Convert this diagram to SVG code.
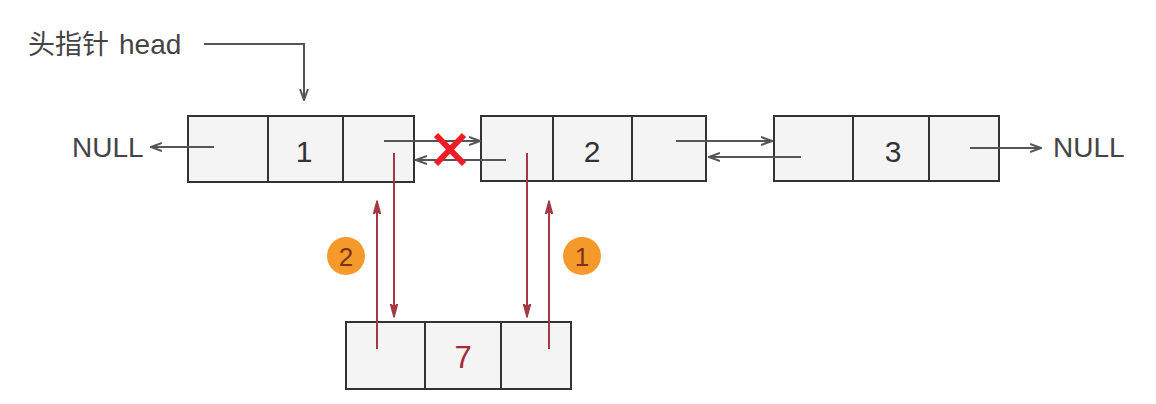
<svg xmlns="http://www.w3.org/2000/svg" width="1156" height="404" viewBox="0 0 1156 404">
  <style>
    .cell { fill: #f4f4f4; stroke: #333; stroke-width: 2; }
    .div { stroke: #333; stroke-width: 2; }
    .lbl { font-family: "Liberation Sans", "Noto Sans CJK SC", sans-serif; fill: #444; }
    .num { font-family: "Liberation Sans", sans-serif; font-size: 30px; fill: #333; text-anchor: middle; }
    .ptr { fill: none; stroke: #555; stroke-width: 2; }
    .red { fill: none; stroke: #a53845; stroke-width: 2; }
    .badge { fill: #f59a2a; }
    .badgeTxt { font-family: "Liberation Sans", sans-serif; font-size: 26px; fill: #7a3418; text-anchor: middle; }
  </style>
  <defs>
    <marker id="gray" viewBox="0 0 12 10" refX="11" refY="5" markerWidth="12" markerHeight="10" markerUnits="userSpaceOnUse" orient="auto">
      <path d="M0,1 L11,5 L0,9" fill="none" stroke="#555" stroke-width="2"/>
    </marker>
    <marker id="redHead" viewBox="0 0 14 10" refX="13" refY="5" markerWidth="14" markerHeight="10" markerUnits="userSpaceOnUse" orient="auto">
      <path d="M0,1.5 L13,5 L0,8.5 L3,5 Z" fill="#a53845" stroke="#a53845" stroke-width="1.5" stroke-linejoin="round"/>
    </marker>
  </defs>

  <!-- head label -->
  <text class="lbl" x="28" y="54" font-size="27">头指针<tspan x="119" font-size="28">head</tspan></text>

  <!-- NULL labels -->
  <text class="lbl" x="72" y="157" font-size="28">NULL</text>
  <text class="lbl" x="1053" y="157" font-size="28">NULL</text>

  <!-- node 1 -->
  <g id="node1">
    <rect class="cell" x="188" y="116" width="226" height="66"/>
    <line class="div" x1="268" y1="116" x2="268" y2="182"/>
    <line class="div" x1="343" y1="116" x2="343" y2="182"/>
    <text class="num" x="304" y="162">1</text>
  </g>

  <!-- node 2 -->
  <g id="node2">
    <rect class="cell" x="481" y="116" width="225" height="65"/>
    <line class="div" x1="553" y1="116" x2="553" y2="181"/>
    <line class="div" x1="632" y1="116" x2="632" y2="181"/>
    <text class="num" x="592" y="162">2</text>
  </g>

  <!-- node 3 -->
  <g id="node3">
    <rect class="cell" x="774" y="116" width="225" height="65"/>
    <line class="div" x1="853" y1="116" x2="853" y2="181"/>
    <line class="div" x1="929" y1="116" x2="929" y2="181"/>
    <text class="num" x="893" y="162">3</text>
  </g>

  <!-- node 7 (new node) -->
  <g id="node7">
    <rect class="cell" x="346" y="322" width="225" height="67"/>
    <line class="div" x1="425" y1="322" x2="425" y2="389"/>
    <line class="div" x1="501" y1="322" x2="501" y2="389"/>
    <text class="num" x="463" y="368" style="fill:#a52a3a; font-size:31px">7</text>
  </g>

  <!-- connectors -->
  <g id="connectors">
    <polyline class="ptr" points="204,44 304,44 304,100" marker-end="url(#gray)"/>
    <line class="ptr" x1="214" y1="147" x2="151" y2="147" marker-end="url(#gray)"/>
    <line class="ptr" x1="384" y1="141" x2="480" y2="141" marker-end="url(#gray)"/>
    <line class="ptr" x1="506" y1="160" x2="416" y2="160" marker-end="url(#gray)"/>
    <line class="ptr" x1="676" y1="141" x2="772" y2="141" marker-end="url(#gray)"/>
    <line class="ptr" x1="801" y1="157" x2="709" y2="157" marker-end="url(#gray)"/>
    <line class="ptr" x1="970" y1="148" x2="1041" y2="148" marker-end="url(#gray)"/>

    <line class="red" x1="377" y1="349" x2="377" y2="201" marker-end="url(#redHead)"/>
    <line class="red" x1="394" y1="153" x2="394" y2="317" marker-end="url(#redHead)"/>
    <line class="red" x1="527" y1="153" x2="527" y2="317" marker-end="url(#redHead)"/>
    <line class="red" x1="549" y1="349" x2="549" y2="201" marker-end="url(#redHead)"/>
  </g>

  <!-- broken link mark -->
  <g id="cross" stroke="#ee1c25" stroke-width="6" stroke-linecap="butt">
    <line x1="436" y1="135" x2="464" y2="164"/>
    <line x1="464" y1="135" x2="436" y2="164"/>
  </g>

  <!-- step badges -->
  <g id="step2">
    <circle class="badge" cx="346" cy="256" r="19"/>
    <text class="badgeTxt" x="346" y="266">2</text>
  </g>
  <g id="step1">
    <circle class="badge" cx="582" cy="256" r="19"/>
    <text class="badgeTxt" x="582" y="266">1</text>
  </g>
</svg>
